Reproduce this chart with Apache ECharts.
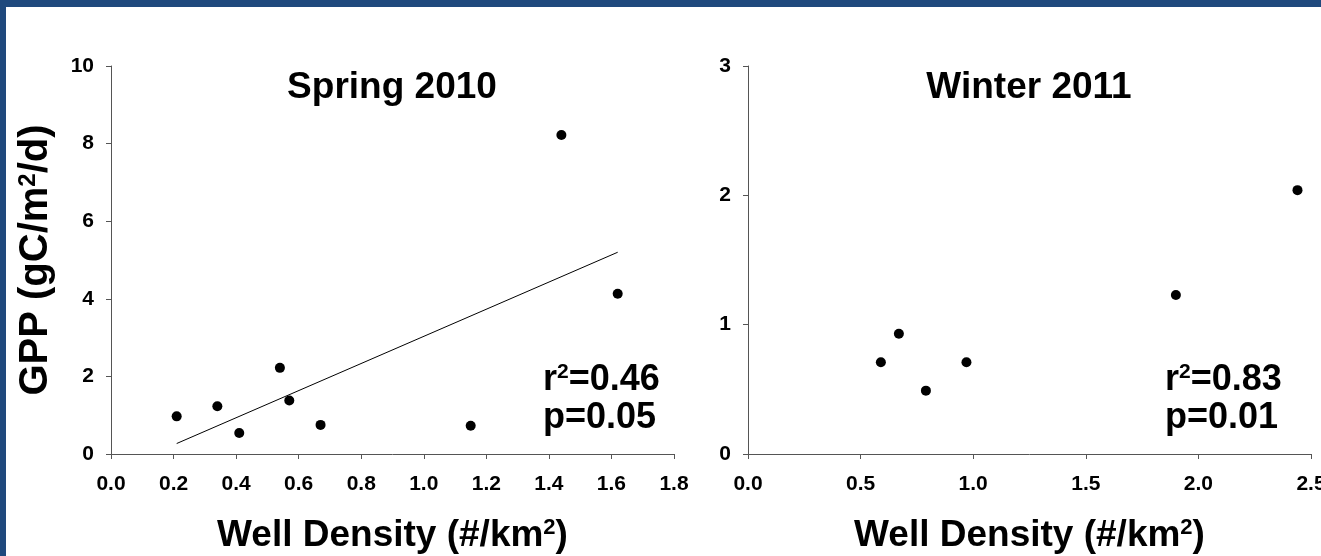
<!DOCTYPE html>
<html>
<head>
<meta charset="utf-8">
<script src="https://cdn.jsdelivr.net/npm/echarts@6/dist/echarts.min.js"></script>
<style>
html,body{margin:0;padding:0;background:#fff;}
#c{width:1321px;height:556px;}
</style>
</head>
<body>
<div id="c"></div>
<script>
// ---- data ----
const springPoints = [
  [0.21, 0.97], [0.34, 1.23], [0.41, 0.54], [0.54, 2.22], [0.57, 1.38],
  [0.67, 0.75], [1.15, 0.73], [1.44, 8.22], [1.62, 4.13]
];
const springTrend = [[0.21, 0.27], [1.62, 5.20]];
const winterPoints = [
  [0.59, 0.71], [0.67, 0.93], [0.79, 0.49], [0.97, 0.71], [1.90, 1.23], [2.44, 2.04]
];
const springAxis = {xMin: 0, xMax: 1.8, xStep: 0.2, yMin: 0, yMax: 10, yStep: 2};
const winterAxis = {xMin: 0, xMax: 2.5, xStep: 0.5, yMin: 0, yMax: 3, yStep: 1};
const panelTitles = ['Spring 2010', 'Winter 2011'];
const statsText = [['0.46', '0.05'], ['0.83', '0.01']];
const xTitle = 'Well Density (#/km{s|2})';
const yTitle = 'GPP (gC/m{s|2}/d)';

const FONT = '"Liberation Sans", Arial, sans-serif';
const axisColor = '#555';

function supRich(size) {
  return {s: {fontSize: size, fontWeight: 'bold', fontFamily: FONT, color: '#000', fill: '#000', verticalAlign: 'top'}};
}

function xAxisDef(idx, a) {
  return {
    type: 'value', gridIndex: idx, min: a.xMin, max: a.xMax, interval: a.xStep,
    axisLine: {show: true, lineStyle: {color: axisColor, width: 1}},
    axisTick: {show: true, length: 5, lineStyle: {color: axisColor}},
    splitLine: {show: false},
    axisLabel: {
      margin: 20, color: '#000', fontSize: 21, fontWeight: 'bold', fontFamily: FONT,
      formatter: v => v.toFixed(1)
    },
    name: xTitle, nameLocation: 'middle', nameGap: 63,
    nameTextStyle: {
      color: '#000', fontSize: 37, fontWeight: 'bold', fontFamily: FONT, rich: supRich(22)
    }
  };
}
function yAxisDef(idx, a, withName) {
  const o = {
    type: 'value', gridIndex: idx, min: a.yMin, max: a.yMax, interval: a.yStep,
    axisLine: {show: true, lineStyle: {color: axisColor, width: 1}},
    axisTick: {show: true, length: 5, lineStyle: {color: axisColor}},
    splitLine: {show: false},
    axisLabel: {margin: 17, color: '#000', fontSize: 21, fontWeight: 'bold', fontFamily: FONT}
  };
  if (withName) {
    o.name = yTitle; o.nameLocation = 'middle'; o.nameGap = 55;
    o.nameTextStyle = {
      color: '#000', fontSize: 40, fontWeight: 'bold', fontFamily: FONT, rich: supRich(24)
    };
  }
  return o;
}

function statGraphics(x, r2, p) {
  return [
    {type: 'text', x: x, y: 380, style: {text: 'r{s|2}=' + r2, fontSize: 36, fontWeight: 'bold', fontFamily: FONT, fill: '#000', align: 'left', verticalAlign: 'middle', rich: supRich(21)}},
    {type: 'text', x: x, y: 418, style: {text: 'p=' + p, fontSize: 36, fontWeight: 'bold', fontFamily: FONT, fill: '#000', align: 'left', verticalAlign: 'middle'}}
  ];
}

const chart = echarts.init(document.getElementById('c'), null, {renderer: 'canvas'});
chart.setOption({
  backgroundColor: '#fff',
  animation: false,
  grid: [
    {left: 111, top: 66, width: 563, height: 388, containLabel: false, outerBoundsMode: 'none'},
    {left: 748, top: 66, width: 563, height: 388, containLabel: false, outerBoundsMode: 'none'}
  ],
  xAxis: [xAxisDef(0, springAxis), xAxisDef(1, winterAxis)],
  yAxis: [yAxisDef(0, springAxis, true), yAxisDef(1, winterAxis, false)],
  series: [
    {type: 'line', xAxisIndex: 0, yAxisIndex: 0, data: springTrend, symbol: 'none',
     lineStyle: {color: '#000', width: 1}, silent: true},
    {type: 'scatter', xAxisIndex: 0, yAxisIndex: 0, data: springPoints, symbol: 'circle', symbolSize: 10,
     itemStyle: {color: '#000', opacity: 1}},
    {type: 'scatter', xAxisIndex: 1, yAxisIndex: 1, data: winterPoints, symbol: 'circle', symbolSize: 10,
     itemStyle: {color: '#000', opacity: 1}}
  ],
  graphic: [
    {type: 'rect', shape: {x: 0, y: 0, width: 1321, height: 7}, style: {fill: '#1F497D'}},
    {type: 'rect', shape: {x: 0, y: 0, width: 6, height: 556}, style: {fill: '#1F497D'}},
    {type: 'text', x: 392, y: 88, style: {text: panelTitles[0], fontSize: 37, fontWeight: 'bold', fontFamily: FONT, fill: '#000', align: 'center', verticalAlign: 'middle'}},
    {type: 'text', x: 1029, y: 88, style: {text: panelTitles[1], fontSize: 37, fontWeight: 'bold', fontFamily: FONT, fill: '#000', align: 'center', verticalAlign: 'middle'}}
  ].concat(statGraphics(543, statsText[0][0], statsText[0][1]), statGraphics(1165, statsText[1][0], statsText[1][1]))
});
</script>
</body>
</html>
